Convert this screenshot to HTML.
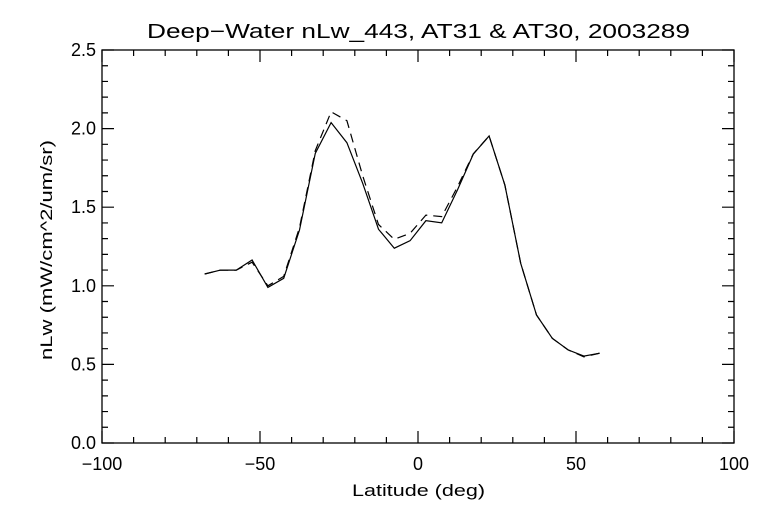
<!DOCTYPE html>
<html><head><meta charset="utf-8"><style>
body{margin:0;background:#fff;}
svg text{font-family:"Liberation Sans",sans-serif;fill:#000;}
</style></head><body>
<svg id="chart" width="768" height="512" viewBox="0 0 768 512">
<rect width="768" height="512" fill="#fff"/>
<text x="147" y="38" font-size="20" textLength="543" lengthAdjust="spacingAndGlyphs">Deep−Water nLw_443, AT31 &amp; AT30, 2003289</text>
<text x="352" y="496" font-size="17" textLength="133" lengthAdjust="spacingAndGlyphs">Latitude (deg)</text>
<text transform="translate(52,360) rotate(-90)" font-size="17" textLength="220" lengthAdjust="spacingAndGlyphs">nLw (mW/cm^2/um/sr)</text>
<g id="axes"></g>
<g id="series"></g>
</svg>
<script>
const lats=[-67.5,-62.5,-57.5,-52.5,-47.5,-42.5,-37.5,-32.5,-27.5,-22.5,-17.5,-12.5,-7.5,-2.5,2.5,7.5,12.5,17.5,22.5,27.5,32.5,37.5,42.5,47.5,52.5,57.5];
const at31=[1.075,1.10,1.10,1.164,0.99,1.048,1.355,1.843,2.038,1.91,1.652,1.36,1.239,1.287,1.414,1.40,1.61,1.838,1.953,1.64,1.143,0.814,0.666,0.592,0.553,0.571];
const at30=[1.075,1.10,1.10,1.15,1.00,1.06,1.37,1.86,2.107,2.05,1.70,1.39,1.296,1.334,1.45,1.44,1.63,1.84,1.953,1.64,1.143,0.814,0.666,0.592,0.548,0.571];
const xTicks=[-100,-50,0,50,100];
const yTicks=[0.0,0.5,1.0,1.5,2.0,2.5];
const L=102,R=734,T=50,B=443;
const xs=v=>L+(v+100)/200*(R-L);
const ys=v=>B-v/2.5*(B-T);
const NS="http://www.w3.org/2000/svg";
const ax=document.getElementById('axes');
function mk(tag,attrs,parent){const e=document.createElementNS(NS,tag);for(const k in attrs)e.setAttribute(k,attrs[k]);parent.appendChild(e);return e;}
const fr=mk('rect',{x:L,y:T,width:R-L,height:B-T,fill:'none',stroke:'#000','stroke-width':1.3},ax);


let p='';
for(let v=-100;v<=100;v+=10){const x=xs(v);const len=(v%50===0)?12:6;p+=`M${x},${B}v${-len}M${x},${T}v${len}`;}
for(let i=0;i<=25;i++){const v=i*0.1;const y=ys(v);const len=(i%5===0)?12:6;p+=`M${L},${y}h${len}M${R},${y}h${-len}`;}
const tk=mk('path',{d:p,stroke:'#000','stroke-width':1.2,fill:'none'},ax);


xTicks.forEach(v=>{const t=mk('text',{x:xs(v),y:470,'font-size':18,'text-anchor':'middle'},ax);t.textContent=(v<0?'−':'')+Math.abs(v);

});
yTicks.forEach(v=>{const t=mk('text',{x:L-6,y:ys(v)+6,'font-size':18,'text-anchor':'end'},ax);t.textContent=v.toFixed(1);

});
const sg=document.getElementById('series');
function line(vals,dash,name){const d=vals.map((v,i)=>(i?'L':'M')+xs(lats[i]).toFixed(1)+','+ys(v).toFixed(1)).join('');
const e=mk('path',{d:d,fill:'none',stroke:'#000','stroke-width':1.2},sg);if(dash)e.setAttribute('stroke-dasharray',dash);

}
line(at30,'9,6','line-at30');
line(at31,null,'line-at31');
</script>
</body></html>
